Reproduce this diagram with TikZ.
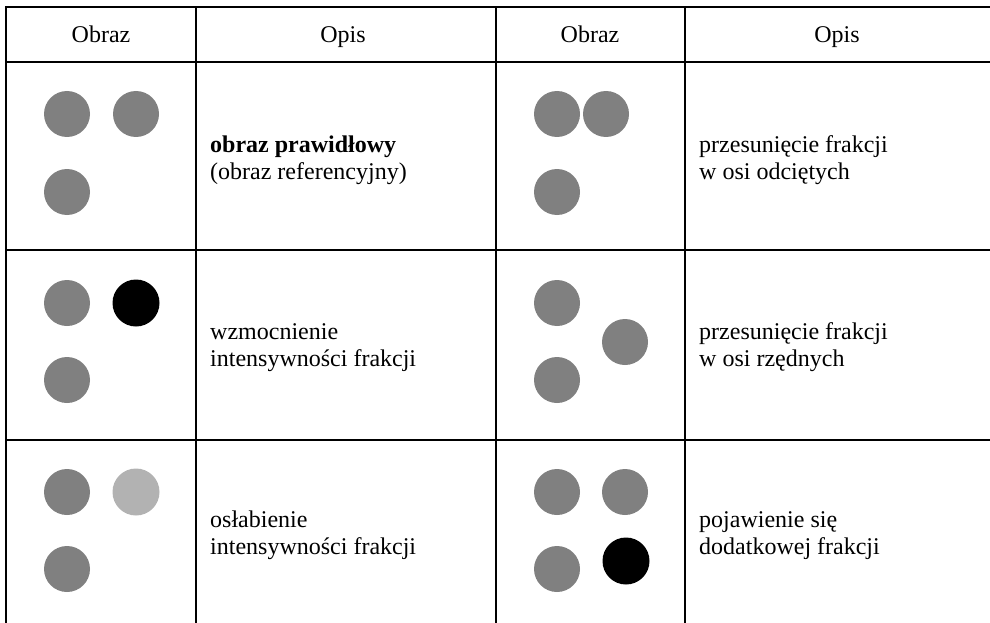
\documentclass[tikz,border=0pt]{standalone}
\usepackage{fontspec}
\setmainfont{Liberation Serif}
\usepackage{tikz}
\tikzstyle{gridline} = [line width=2.4pt, line cap=rect]
\tikzstyle{spot} = [circle, fill=gray, minimum size=46pt, inner sep=0pt]
\tikzstyle{head} = [anchor=base, inner sep=0pt, font=\fontsize{24}{27}\selectfont]
\tikzstyle{desc} = [anchor=base west, align=left, inner sep=0pt, font=\fontsize{24}{27}\selectfont]

\begin{document}
\begin{tikzpicture}[x=1pt, y=-1pt, node distance=69pt]
    \useasboundingbox (0,0) rectangle (990,623);
    % table rules
    \foreach \y in {7,62,250,440} \draw [gridline] (6,\y) -- (990,\y);
    \foreach \x in {6,196,496,685} \draw [gridline] (\x,7) -- (\x,623);
    % header
    \node [head] (imgHeadA) at (101,43) {Obraz};
    \node [head] (descHeadA) at (343,43) {Opis};
    \node [head] (imgHeadB) at (590,43) {Obraz};
    \node [head] (descHeadB) at (837,43) {Opis};
    % left column
    \node [spot] (refA) at (67,114) {};
    \node [spot, right of=refA] (refB) {};
    \node [spot, below of=refA, node distance=78pt] (refC) {};
    \node [desc] (refText) at (210,179) {\textbf{obraz prawidłowy}\\(obraz referencyjny)};
    \node [spot] (strongA) at (67,303) {};
    \node [spot, fill=black, minimum size=47pt, right of=strongA] (strongB) {};
    \node [spot, below of=strongA, node distance=77pt] (strongC) {};
    \node [desc] (strongText) at (210,366) {wzmocnienie\\intensywności frakcji};
    \node [spot] (weakA) at (67,492) {};
    \node [spot, fill=black!30, minimum size=47pt, right of=weakA] (weakB) {};
    \node [spot, below of=weakA, node distance=77pt] (weakC) {};
    \node [desc] (weakText) at (210,554) {osłabienie\\intensywności frakcji};
    % right column
    \node [spot] (shiftXA) at (557,114) {};
    \node [spot, right of=shiftXA, node distance=49pt] (shiftXB) {};
    \node [spot, below of=shiftXA, node distance=78pt] (shiftXC) {};
    \node [desc] (shiftXText) at (699,179) {przesunięcie frakcji\\w osi odciętych};
    \node [spot] (shiftYA) at (557,303) {};
    \node [spot] (shiftYB) at (625,342) {};
    \node [spot, below of=shiftYA, node distance=77pt] (shiftYC) {};
    \node [desc] (shiftYText) at (699,366) {przesunięcie frakcji\\w osi rzędnych};
    \node [spot] (extraA) at (557,492) {};
    \node [spot, right of=extraA, node distance=68pt] (extraB) {};
    \node [spot, below of=extraA, node distance=77pt] (extraC) {};
    \node [spot, fill=black, minimum size=47pt] (extraD) at (626,561) {};
    \node [desc] (extraText) at (699,554) {pojawienie się\\dodatkowej frakcji};
\end{tikzpicture}
\end{document}
